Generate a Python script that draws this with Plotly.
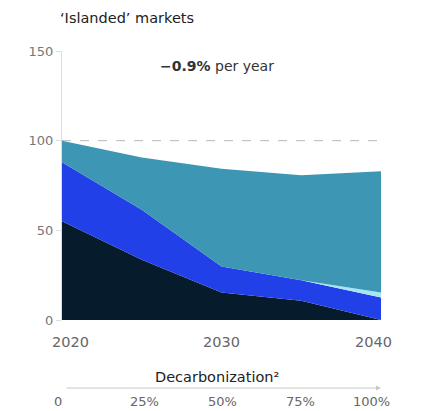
import plotly.graph_objects as go

years = [2020, 2025, 2030, 2035, 2040]
navy = [55.0, 33.6, 15.4, 10.8, 0.0]
blue = [32.9, 27.9, 14.5, 11.3, 12.6]
cyan = [0.0, 0.0, 0.0, 0.0, 2.8]
teal = [12.1, 29.1, 54.5, 58.6, 67.5]
decarb_labels = ["0", "25%", "50%", "75%", "100%"]
y_ticks = [0, 50, 100, 150]
x_ticks = [2020, 2030, 2040]

FONT = "DejaVu Sans, Arial, sans-serif"

fig = go.Figure()
for vals, col in [(navy, "#061b2b"), (blue, "#2140e8"), (cyan, "#a6e6f2"), (teal, "#3d96b4")]:
    fig.add_trace(go.Scatter(x=years, y=vals, stackgroup="one", mode="lines",
                             line=dict(width=0, color=col), fillcolor=col,
                             hoverinfo="skip", showlegend=False))

fig.add_shape(type="line", xref="x", yref="y", x0=2020, x1=2040, y0=100, y1=100,
              line=dict(color="#b8b8b8", width=1, dash="dash"), layer="below")

annotations = [
    dict(text="‘Islanded’ markets", xref="paper", yref="paper", x=-0.013, y=1.121,
         xanchor="left", yanchor="middle", showarrow=False,
         font=dict(size=14.5, color="#222222", family=FONT)),
    dict(text="<b>−0.9%</b> per year", xref="paper", yref="paper", x=0.487, y=0.944,
         xanchor="center", yanchor="middle", showarrow=False,
         font=dict(size=14, color="#333333", family=FONT)),
    dict(text="Decarbonization²", xref="paper", yref="paper", x=0.486, y=-0.212,
         xanchor="center", yanchor="middle", showarrow=False,
         font=dict(size=14.5, color="#222222", family=FONT)),
    dict(text="", xref="x", yref="paper", x=2040, y=-0.253, axref="x", ax=2020.2,
         ayref="pixel", ay=0, showarrow=True, arrowhead=2, arrowsize=1, arrowwidth=1,
         arrowcolor="#c8c8c8"),
]
x_shifts = {2020: 8, 2030: 0, 2040: -8}
for yr in x_ticks:
    annotations.append(dict(text=str(yr), xref="x", yref="paper", x=yr, y=-0.082,
                            xshift=x_shifts[yr], xanchor="center", yanchor="middle",
                            showarrow=False,
                            font=dict(size=14.5, color="#666666", family=FONT)))
d_shifts = [-4, 3, 1, -1, -10]
for yr, lab, sh in zip(years, decarb_labels, d_shifts):
    annotations.append(dict(text=lab, xref="x", yref="paper", x=yr, y=-0.303,
                            xshift=sh, xanchor="center", yanchor="middle", showarrow=False,
                            borderpad=0,
                            font=dict(size=13, color="#666666", family=FONT)))

fig.update_layout(
    width=423, height=411,
    margin=dict(l=62, r=42, t=51, b=91),
    paper_bgcolor="white", plot_bgcolor="white",
    font=dict(family=FONT, size=13, color="#666666"),
    annotations=annotations,
    xaxis=dict(range=[2020, 2040], tickvals=x_ticks, showticklabels=False,
               showgrid=False, zeroline=False, showline=False, ticks=""),
    yaxis=dict(range=[0, 150], tickvals=y_ticks, showgrid=False, zeroline=False,
               showline=True, linecolor="#dddddd", linewidth=1,
               ticks="outside", ticklen=5, tickcolor="#dddddd",
               tickfont=dict(size=13, color="#777777")),
)

fig.write_html("out.html")
